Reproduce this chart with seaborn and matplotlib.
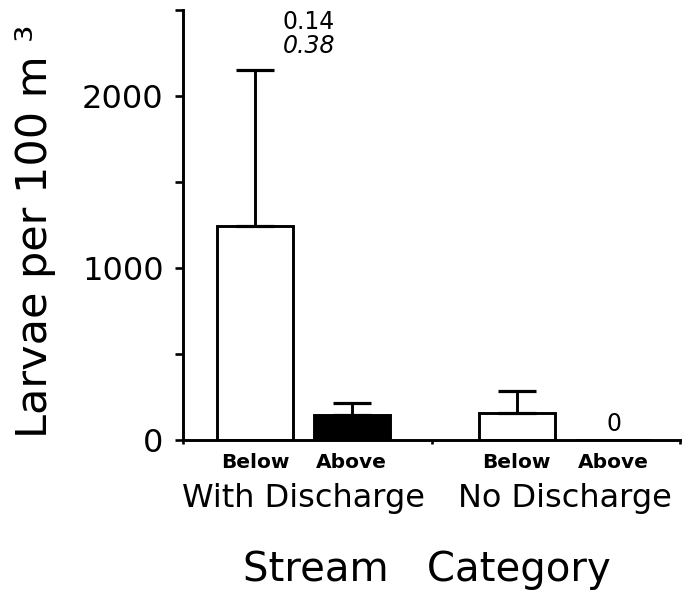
import numpy as np
import pandas as pd
import matplotlib
matplotlib.use("Agg")
import matplotlib.pyplot as plt
import seaborn as sns

# ---- data ----
groups = ["With Discharge", "With Discharge", "No Discharge", "No Discharge"]
positions = ["Below", "Above", "Below", "Above"]
means = [1245, 145, 160, 0]
errors = [905, 70, 125, 0]
group_order = ["With Discharge", "No Discharge"]
position_order = ["Below", "Above"]
y_ticks = [0, 1000, 2000]
y_minor = [500, 1500, 2500]
stat_top = "0.14"
stat_bottom = "0.38"
zero_label = "0"

df = pd.DataFrame({"group": groups, "position": positions,
                   "mean": means, "err": errors})

sns.set_style("ticks")
plt.rcParams["font.family"] = ["DejaVu Sans"]
for k in ["text.color", "axes.labelcolor", "xtick.color", "ytick.color",
          "axes.edgecolor"]:
    plt.rcParams[k] = "black"

fig = plt.figure(figsize=(6.83, 6.03), dpi=100)
ax = fig.add_axes([0.268, 0.270, 0.728, 0.713])

sns.barplot(data=df, x="group", y="mean", hue="position",
            order=group_order, hue_order=position_order,
            palette={"Below": "white", "Above": "black"},
            edgecolor="black", linewidth=2.1, width=0.74, gap=0.216,
            errorbar=None, legend=False, ax=ax)

# error bars (upper only) and position labels
centers = {}
for i, pos in enumerate(position_order):
    for j, grp in enumerate(group_order):
        bar = ax.containers[i][j]
        cx = bar.get_x() + bar.get_width() / 2
        row = df[(df.group == grp) & (df.position == pos)].iloc[0]
        centers[(grp, pos)] = cx
        if row.err > 0:
            ax.errorbar(cx, row["mean"], yerr=[[0], [row.err]], fmt="none",
                        ecolor="black", elinewidth=2.1, capsize=13.5,
                        capthick=2.3, zorder=1)
        ax.annotate(pos, xy=(cx, 0), xycoords=("data", "axes fraction"),
                    xytext=(0, -9), textcoords="offset points",
                    ha="center", va="top", fontsize=14.5, fontweight="bold")

ax.set_ylim(0, 2500)
ax.set_xlim(-0.46, 1.44)
ax.set_yticks(y_ticks)
ax.set_yticklabels([str(t) for t in y_ticks])
ax.set_yticks(y_minor, minor=True)
ax.tick_params(axis="y", which="both", length=6, width=1.9, pad=8,
               labelsize=23, direction="out")

ax.set_xticks(range(len(group_order)))
ax.set_xticklabels(group_order)
ax.tick_params(axis="x", which="major", length=0, pad=31, labelsize=23)
ax.set_xticks([-0.46, 0.49, 1.44], minor=True)
ax.tick_params(axis="x", which="minor", length=3, width=1.9, direction="out")

for s in ["left", "bottom"]:
    ax.spines[s].set_linewidth(2.1)
sns.despine(ax=ax)

ax.set_ylabel("Larvae per 100 m \u00b3", fontsize=31)
ax.yaxis.set_label_coords(-0.255, 0.485)
ax.set_xlabel("Stream   Category", fontsize=29)
ax.xaxis.set_label_coords(0.49, -0.255)

# statistics annotation above first bar
c0 = centers[("With Discharge", "Below")]
ax.annotate(stat_top, xy=(c0, 2430), xytext=(20, 0), textcoords="offset points",
            ha="left", va="center", fontsize=17)
ax.annotate(stat_bottom, xy=(c0, 2295), xytext=(20, 0), textcoords="offset points",
            ha="left", va="center", fontsize=17, style="italic")
c3 = centers[("No Discharge", "Above")]
ax.annotate(zero_label, xy=(c3, 0), xytext=(0, 12), textcoords="offset points",
            ha="center", va="center", fontsize=17)

fig.savefig("out.png", dpi=100)
